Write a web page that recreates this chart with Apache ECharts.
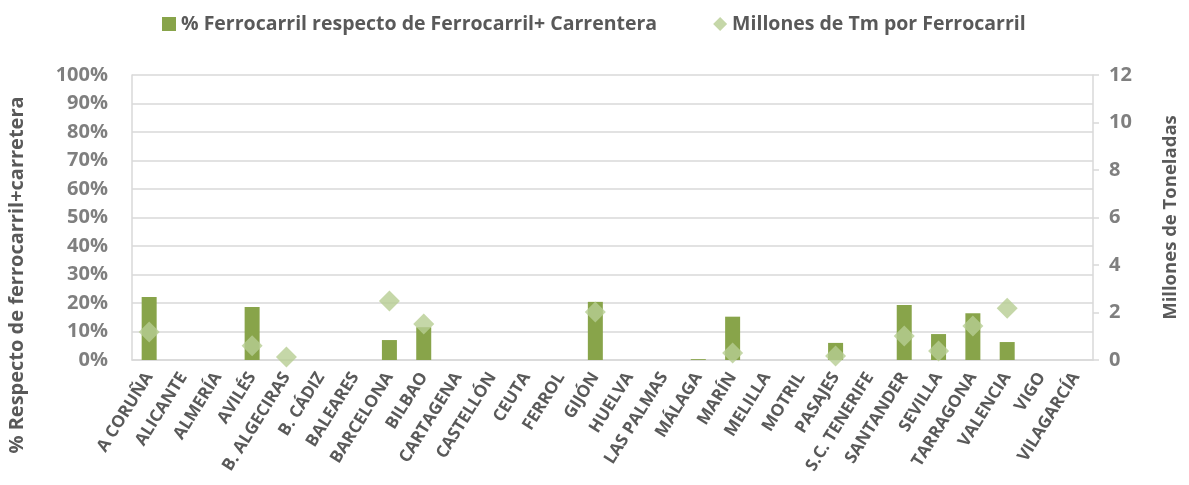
<!DOCTYPE html>
<html>
<head>
<meta charset="utf-8">
<script src="https://cdn.jsdelivr.net/npm/echarts@6/dist/echarts.min.js"></script>
<style>
  html, body { margin: 0; padding: 0; background: #fff; }
  #chart { width: 1189px; height: 485px; }
</style>
</head>
<body>
<div id="chart"></div>
<script>
// puertos
var puertos = ["A CORUÑA", "ALICANTE", "ALMERÍA", "AVILÉS", "B. ALGECIRAS", "B. CÁDIZ", "BALEARES",
  "BARCELONA", "BILBAO", "CARTAGENA", "CASTELLÓN", "CEUTA", "FERROL", "GIJÓN", "HUELVA",
  "LAS PALMAS", "MÁLAGA", "MARÍN", "MELILLA", "MOTRIL", "PASAJES", "S.C. TENERIFE",
  "SANTANDER", "SEVILLA", "TARRAGONA", "VALENCIA", "VIGO", "VILAGARCÍA"];
// % ferrocarril respecto de ferrocarril + carretera
var pctFerrocarril = [22.1, null, null, 18.6, null, null, null,
  7.0, 11.5, null, null, null, null, 20.4, null,
  null, 0.3, 15.2, null, null, 6.0, null,
  19.3, 9.1, 16.4, 6.3, null, null];
// millones de Tm por ferrocarril
var millonesTm = [1.18, null, null, 0.6, 0.13, null, null,
  2.48, 1.52, null, null, null, null, 2.02, null,
  null, null, 0.29, null, null, 0.17, null,
  1.01, 0.38, 1.43, 2.18, null, null];

var fuente = "'Open Sans', 'Liberation Sans', sans-serif";

var myChart = echarts.init(document.getElementById("chart"));
var option = {
  animation: false,
  textStyle: { fontFamily: fuente },
  legend: {
    top: 9,
    left: 157,
    itemGap: 56,
    itemWidth: 14,
    itemHeight: 14,
    textStyle: { fontSize: 19.5, fontWeight: "bold", color: "#595959", fontFamily: fuente },
    data: [
      { name: "% Ferrocarril respecto de Ferrocarril+ Carrentera", icon: "rect" },
      { name: "Millones de Tm por Ferrocarril", icon: "diamond" }
    ]
  },
  grid: { left: 132, right: 96, top: 75, bottom: 125 },
  xAxis: {
    type: "category",
    data: puertos,
    axisLine: { lineStyle: { color: "#d9d9d9", width: 1.5 } },
    axisTick: { show: false },
    axisLabel: {
      interval: 0,
      rotate: 58,
      margin: 14,
      fontSize: 17,
      fontWeight: "bold",
      color: "#595959",
      fontFamily: fuente
    }
  },
  yAxis: [
    {
      type: "value",
      min: 0,
      max: 100,
      interval: 10,
      axisLine: { show: true, lineStyle: { color: "#d9d9d9", width: 1.5 } },
      axisTick: { show: false },
      splitLine: { lineStyle: { color: "#d9d9d9", width: 1.5 } },
      axisLabel: {
        formatter: "{value}%",
        margin: 24,
        fontSize: 20,
        fontWeight: "bold",
        color: "#7f7f7f",
        fontFamily: fuente
      }
    },
    {
      type: "value",
      min: 0,
      max: 12,
      interval: 2,
      position: "right",
      name: "Millones de Toneladas",
      nameLocation: "middle",
      nameGap: 68,
      nameRotate: 90,
      nameTextStyle: { fontSize: 18.5, fontWeight: "bold", color: "#595959", fontFamily: fuente },
      axisLine: { show: true, lineStyle: { color: "#d9d9d9", width: 1.5 } },
      axisTick: { show: true, inside: false, length: 6, lineStyle: { color: "#d9d9d9", width: 1.5 } },
      splitLine: { show: false },
      axisLabel: {
        margin: 16,
        fontSize: 20,
        fontWeight: "bold",
        color: "#7f7f7f",
        fontFamily: fuente
      }
    }
  ],
  graphic: [
    {
      type: "text",
      x: 17,
      y: 275,
      rotation: Math.PI / 2,
      style: {
        text: "% Respecto de ferrocarril+carretera",
        fontSize: 20,
        fontWeight: "bold",
        fill: "#595959",
        fontFamily: fuente,
        align: "center",
        verticalAlign: "middle"
      }
    }
  ],
  series: [
    {
      name: "% Ferrocarril respecto de Ferrocarril+ Carrentera",
      type: "bar",
      barWidth: 15,
      yAxisIndex: 0,
      itemStyle: { color: "#88a44a" },
      data: pctFerrocarril
    },
    {
      name: "Millones de Tm por Ferrocarril",
      type: "scatter",
      yAxisIndex: 1,
      symbol: "diamond",
      symbolSize: 21,
      itemStyle: { color: "#b6cd92" },
      z: 3,
      data: millonesTm
    }
  ]
};
myChart.setOption(option);
</script>
</body>
</html>
